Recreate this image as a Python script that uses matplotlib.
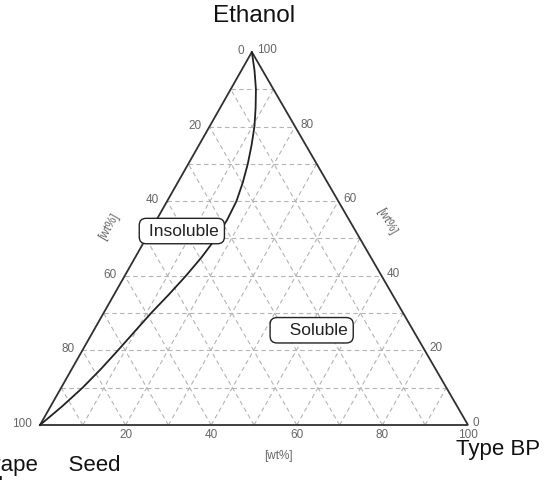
import numpy as np
import matplotlib.pyplot as plt

plt.rcParams['font.family'] = ['Liberation Sans', 'DejaVu Sans']

# ---------------------------------------------------------
# Data (fractions, 0..1)
# ---------------------------------------------------------
# phase boundary: ethanol fraction and Type BP fraction along the curve
curve_ethanol = [0.00, 0.05, 0.10, 0.15, 0.20, 0.25, 0.30, 0.35, 0.40, 0.45, 0.50,
                 0.55, 0.60, 0.65, 0.70, 0.75, 0.80, 0.85, 0.90, 0.95, 1.00]
curve_bp = [0.000, 0.027, 0.050, 0.068, 0.083, 0.097, 0.111, 0.128, 0.143, 0.155, 0.163,
            0.165, 0.162, 0.152, 0.139, 0.123, 0.105, 0.083, 0.059, 0.031, 0.000]

grid_levels = [0.1, 0.2, 0.3, 0.4, 0.5, 0.6, 0.7, 0.8, 0.9]
left_ticks = [0, 20, 40, 60, 80, 100]      # Grape Seed Oil (left edge)
right_ticks = [0, 20, 40, 60, 80, 100]     # Ethanol (right edge)
bottom_ticks = [20, 40, 60, 80, 100]       # Type BP (bottom edge)

region_names = [" Insoluble", "   Soluble"]
region_bp = [0.074, 0.509]
region_ethanol = [0.52, 0.254]

# ---------------------------------------------------------
# Triangle geometry
# ---------------------------------------------------------
BL = np.array([0.0, 0.0])
BR = np.array([1.0, 0.0])
TOP = np.array([0.495, 0.8715])


def tern(b, e):
    """Type BP fraction b, ethanol fraction e -> x, y (oil = 1 - b - e)."""
    b = np.asarray(b, dtype=float)
    e = np.asarray(e, dtype=float)
    o = 1 - b - e
    x = o * BL[0] + b * BR[0] + e * TOP[0]
    y = o * BL[1] + b * BR[1] + e * TOP[1]
    return x, y


fig = plt.figure(figsize=(5.48, 4.8), dpi=100)
ax = fig.add_axes([0, 0, 1, 1])
ax.set_xlim(-40 / 428, 508 / 428)
ax.set_ylim(-55 / 428, 425 / 428)
ax.axis('off')

# dashed grid
grid_kw = dict(color='#b4b4b4', lw=0.8, linestyle=(0, (4, 3)), zorder=1)
for v in grid_levels:
    # constant ethanol
    x, y = tern([0, 1 - v], [v, v])
    ax.plot(x, y, **grid_kw)
    # constant Type BP
    x, y = tern([v, v], [0, 1 - v])
    ax.plot(x, y, **grid_kw)
    # constant oil
    x, y = tern([1 - v, 0], [0, 1 - v])
    ax.plot(x, y, **grid_kw)

# triangle edges
x, y = tern([0, 1, 0, 0], [0, 0, 1, 0])
ax.plot(x, y, color='#303030', lw=1.3, zorder=3, solid_joinstyle='miter')

# boundary curve
x, y = tern(curve_bp, curve_ethanol)
ax.plot(x, y, color='#222222', lw=1.3, zorder=3)

tick_kw = dict(textcoords='offset pixels', fontsize=8.5, color='#666666')
for t in left_ticks:
    x, y = tern(0, 1 - t / 100)
    ax.annotate(str(t), (x, y), xytext=(-8, 1), ha='right', va='center', **tick_kw)
for t in right_ticks:
    x, y = tern(1 - t / 100, t / 100)
    ax.annotate(str(t), (x, y), xytext=(5, 2), ha='left', va='center', **tick_kw)
for t in bottom_ticks:
    x, y = tern(t / 100, 0)
    ax.annotate(str(t), (x, y), xytext=(0, -10), ha='center', va='center', **tick_kw)

# unit labels
wt_kw = dict(textcoords='offset pixels', fontsize=8.5, color='#666666',
             ha='center', va='center')
x, y = tern(0, 0.531)
ax.annotate('[wt%]', (x, y), xytext=(-43, 0), rotation=60, **wt_kw)
x, y = tern(1 - 0.545, 0.545)
ax.annotate('[wt%]', (x, y), xytext=(36, 0), rotation=-60, **wt_kw)
x, y = tern(0.556, 0)
ax.annotate('[wt%]', (x, y), xytext=(0, -31), **wt_kw)

# component names
x, y = tern(0, 1)
ax.annotate('Ethanol', (x, y), xytext=(2, 36), textcoords='offset pixels',
            ha='center', va='center', fontsize=17.5, color='#111111')
x, y = tern(1, 0)
ax.annotate('Type BP', (x, y), xytext=(-12, -30), textcoords='offset pixels',
            ha='left', va='baseline', fontsize=16, color='#111111')
x, y = tern(0, 0)
ax.annotate('Grape     Seed\nOil', (x, y), xytext=(-64, -67), textcoords='offset pixels',
            ha='left', va='baseline', fontsize=16, color='#111111',
            multialignment='left', linespacing=1.0)

# region labels
for name, b, e in zip(region_names, region_bp, region_ethanol):
    x, y = tern(b, e)
    ax.text(x, y, name, ha='center', va='center', fontsize=12.5, color='#222222',
            zorder=5,
            bbox=dict(boxstyle='round,pad=0.3,rounding_size=0.4', fc='white',
                      ec='#222222', lw=1.0))

fig.savefig('out.png', dpi=100)
